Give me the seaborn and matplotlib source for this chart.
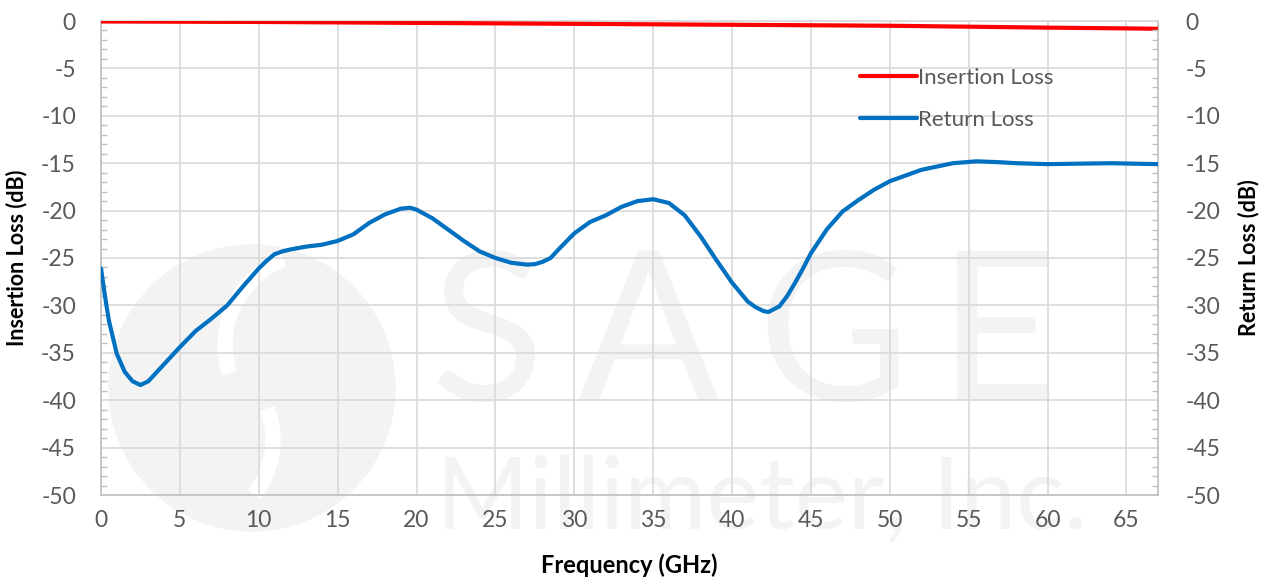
import matplotlib
matplotlib.use("Agg")
import matplotlib.pyplot as plt
from matplotlib.patches import Ellipse, Arc
from matplotlib.ticker import MultipleLocator
import pandas as pd
import seaborn as sns

# data
freq_il = [0, 10, 20, 30, 40, 50, 55, 60, 65, 67]
insertion_loss = [-0.05, -0.1, -0.2, -0.3, -0.4, -0.5, -0.6, -0.7, -0.78, -0.82]

freq_rl = [0, 0.25, 0.5, 1, 1.5, 2, 2.5, 3, 4, 5, 6, 7, 8, 9, 10, 10.5, 11, 11.5, 12,
           13, 14, 15, 16, 17, 18, 19, 19.6, 20, 21, 22, 23, 24, 25, 26, 27, 27.5,
           28, 28.5, 29, 30, 31, 32, 33, 34, 35, 36, 37, 38, 39, 40, 41, 41.5, 42,
           42.3, 43, 43.5, 44, 44.5, 45, 46, 47, 48, 49, 50, 52, 54, 55.5, 57, 58,
           60, 62, 64, 67]
return_loss = [-26.1, -29.0, -31.6, -35.1, -37.0, -38.0, -38.4, -38.0, -36.2, -34.4,
               -32.7, -31.4, -30.0, -28.0, -26.1, -25.3, -24.6, -24.3, -24.1, -23.8,
               -23.6, -23.2, -22.5, -21.3, -20.4, -19.8, -19.7, -19.9, -20.8, -22.0,
               -23.2, -24.3, -25.0, -25.5, -25.7, -25.65, -25.4, -25.0, -24.1, -22.4,
               -21.2, -20.5, -19.6, -19.0, -18.8, -19.2, -20.5, -22.7, -25.2, -27.6,
               -29.6, -30.2, -30.6, -30.7, -30.1, -29.0, -27.6, -26.1, -24.5, -22.0,
               -20.1, -18.9, -17.8, -16.9, -15.7, -15.0, -14.8, -14.9, -15.0, -15.1,
               -15.05, -15.0, -15.1]

x_ticks = list(range(0, 70, 5))
y_ticks = list(range(-50, 5, 5))

df = pd.concat([
    pd.DataFrame({"freq": freq_il, "loss": insertion_loss, "series": "Insertion Loss"}),
    pd.DataFrame({"freq": freq_rl, "loss": return_loss, "series": "Return Loss"}),
])

sns.set_theme(style="white")
plt.rcParams["font.family"] = ["Lato", "DejaVu Sans"]
plt.rcParams["axes.unicode_minus"] = False

W, H = 1263, 578
fig = plt.figure(figsize=(W / 100, H / 100), dpi=100)
ax = fig.add_axes([101 / W, 1 - 495 / H, (1158 - 101) / W, (495 - 21) / H])


def px(x, y):
    return x / W, 1 - y / H


# faint watermark (logo + company name), kept below grid and lines
wm = "#f3f3f3"
ft = fig.transFigure
ax.add_patch(Ellipse(px(252, 388), 286 / W, 286 / H, transform=ft, color=wm, zorder=0.1,
                     clip_on=False))
ax.add_patch(Arc(px(317, 345), 184 / W, 184 / H, theta1=100, theta2=215, transform=ft,
                 color="white", lw=11, zorder=0.2, clip_on=False))
ax.add_patch(Arc(px(185, 440), 176 / W, 176 / H, theta1=-60, theta2=40, transform=ft,
                 color="white", lw=11, zorder=0.2, clip_on=False))
for letter, cx in zip("SAGE", [487, 648, 833, 998]):
    ax.text(*px(cx, 400), letter, transform=ft, color=wm, fontsize=150, ha="center",
            va="baseline", zorder=0.1, clip_on=False)
ax.text(*px(762, 528), "Millimeter, Inc.", transform=ft, color=wm, fontsize=72,
        ha="center", va="baseline", zorder=0.1, clip_on=False)

sns.lineplot(data=df, x="freq", y="loss", hue="series", palette=["#FF0000", "#0070C0"],
             linewidth=3, ax=ax, sort=False, zorder=3, solid_joinstyle="round",
             solid_capstyle="round")

ax.set_xlim(0, 67)
ax.set_ylim(-50, 0)
ax.set_xticks(x_ticks)
ax.set_yticks(y_ticks)
ax.xaxis.set_minor_locator(MultipleLocator(1))
ax.yaxis.set_minor_locator(MultipleLocator(1))
ax.grid(True, which="major", color="#d9d9d9", linewidth=1.2, zorder=0.5)
ax.set_axisbelow(True)

tick_color = "#595959"
ax.tick_params(axis="both", which="major", length=0, labelsize=16.5, labelcolor=tick_color)
ax.tick_params(axis="x", which="major", pad=11)
ax.tick_params(axis="y", which="major", pad=18)
ax.tick_params(axis="both", which="minor", direction="in", length=4, width=1, color="#bfbfbf")
for side in ["left", "bottom", "right"]:
    ax.spines[side].set_color("#bfbfbf")
    ax.spines[side].set_linewidth(1.2)
ax.spines["top"].set_color("#d9d9d9")

ax.set_xlabel("Frequency (GHz)", fontsize=17, fontweight="bold", color="black", labelpad=16)
ax.set_ylabel("Insertion Loss (dB)", fontsize=15.5, fontweight="bold", color="black",
              labelpad=10)

ax2 = ax.twinx()
ax2.set_ylim(-50, 0)
ax2.set_yticks(y_ticks)
ax2.yaxis.set_minor_locator(MultipleLocator(1))
ax2.tick_params(axis="y", which="major", length=0, labelsize=16.5, labelcolor=tick_color, pad=20)
ax2.tick_params(axis="y", which="minor", direction="in", length=4, width=1, color="#bfbfbf")
for side in ["left", "bottom", "right", "top"]:
    ax2.spines[side].set_visible(False)
ax2.set_ylabel("Return Loss (dB)", fontsize=15.5, fontweight="bold", color="black",
               labelpad=12)

handles, labels = ax.get_legend_handles_labels()
ax.legend(handles, labels, loc="upper left", bbox_to_anchor=px(840, 48),
          bbox_transform=ft, frameon=False, fontsize=16, handlelength=2.55,
          handletextpad=0.08, labelspacing=1.0, labelcolor=tick_color)

fig.savefig("out.png", dpi=100)
